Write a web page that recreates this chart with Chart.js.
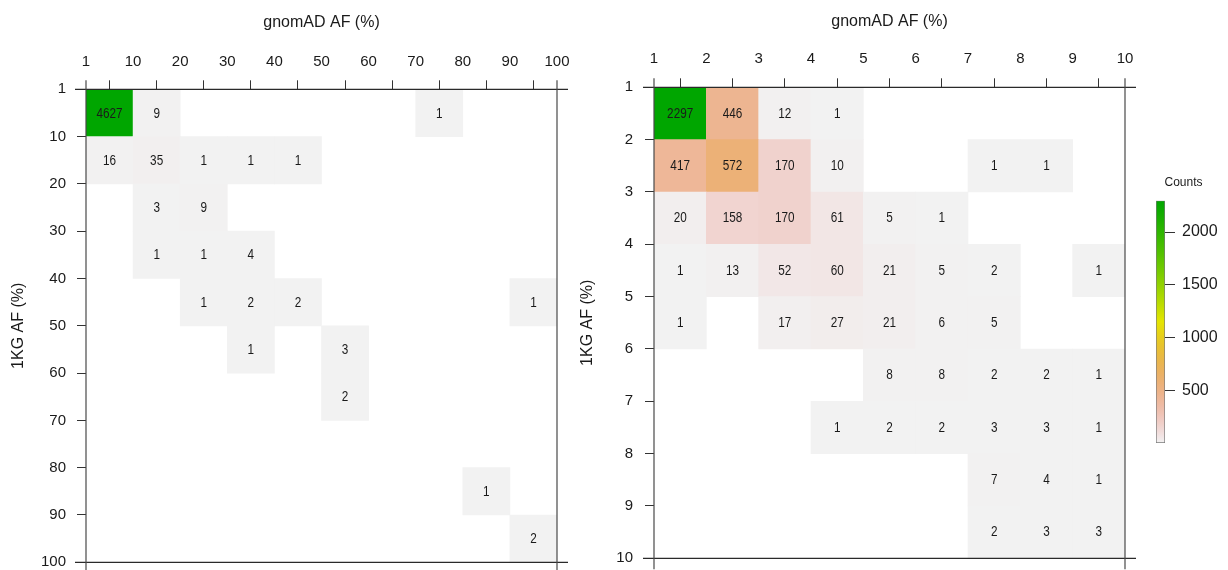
<!DOCTYPE html>
<html>
<head>
<meta charset="utf-8">
<script src="https://cdn.jsdelivr.net/npm/chart.js@4/dist/chart.umd.min.js"></script>
<style>
  html, body { margin: 0; padding: 0; background: #ffffff; }
  #wrap { position: relative; width: 1228px; height: 570px; overflow: hidden; background: #ffffff; }
  #wrap canvas { position: absolute; left: 0; top: 0; }
</style>
</head>
<body>
<div id="wrap">
  <canvas id="coarse" width="1228" height="570"></canvas>
  <canvas id="fine" width="1228" height="570"></canvas>
  <canvas id="scalebar" width="1228" height="570"></canvas>
</div>
<script>
// Bin edges (AF %) shared by both axes of each panel
const coarseEdges = ['1', '10', '20', '30', '40', '50', '60', '70', '80', '90', '100'];
const fineEdges = ['1', '2', '3', '4', '5', '6', '7', '8', '9', '10'];

// Variant counts: one row per 1KG AF bin (top to bottom), one column per gnomAD AF bin
const coarseCounts = [
  [4627, 9, 0, 0, 0, 0, 0, 1, 0, 0],
  [16, 35, 1, 1, 1, 0, 0, 0, 0, 0],
  [0, 3, 9, 0, 0, 0, 0, 0, 0, 0],
  [0, 1, 1, 4, 0, 0, 0, 0, 0, 0],
  [0, 0, 1, 2, 2, 0, 0, 0, 0, 1],
  [0, 0, 0, 1, 0, 3, 0, 0, 0, 0],
  [0, 0, 0, 0, 0, 2, 0, 0, 0, 0],
  [0, 0, 0, 0, 0, 0, 0, 0, 0, 0],
  [0, 0, 0, 0, 0, 0, 0, 0, 1, 0],
  [0, 0, 0, 0, 0, 0, 0, 0, 0, 2]
];
const fineCounts = [
  [2297, 446, 12, 1, 0, 0, 0, 0, 0],
  [417, 572, 170, 10, 0, 0, 1, 1, 0],
  [20, 158, 170, 61, 5, 1, 0, 0, 0],
  [1, 13, 52, 60, 21, 5, 2, 0, 1],
  [1, 0, 17, 27, 21, 6, 5, 0, 0],
  [0, 0, 0, 0, 8, 8, 2, 2, 1],
  [0, 0, 0, 1, 2, 2, 3, 3, 1],
  [0, 0, 0, 0, 0, 0, 7, 4, 1],
  [0, 0, 0, 0, 0, 0, 2, 3, 3]
];

// Colour key ticks
const scaleTicks = [500, 1000, 1500, 2000];

const AXIS_FONT = '"Liberation Sans", Arial, Helvetica, sans-serif';
const INK = '#1a1a1a';

// Reversed terrain palette: light grey -> salmon -> yellow -> green
function hsvToRgb(h, s, v) {
  const c = v * s, hp = h / 60, x = c * (1 - Math.abs((hp % 2) - 1));
  let r = 0, g = 0, b = 0;
  if (hp < 1) { r = c; g = x; }
  else if (hp < 2) { r = x; g = c; }
  else { g = c; b = x; }
  const m = v - c;
  const to = (u) => Math.round((u + m) * 255);
  return 'rgb(' + to(r) + ',' + to(g) + ',' + to(b) + ')';
}
function ramp(t) {
  t = Math.max(0, Math.min(1, t));
  if (t <= 0.5) {
    const u = t / 0.5;
    return hsvToRgb(60 * u, u, 0.95 - 0.05 * u);
  }
  const u = (t - 0.5) / 0.5;
  return hsvToRgb(60 + 60 * u, 1, 0.9 - 0.25 * u);
}

// Prints each cell's count (narrow lettering) in the middle of its bar element
const cellLabels = {
  id: 'cellLabels',
  afterDatasetsDraw(chart) {
    const ctx = chart.ctx;
    const ds = chart.data.datasets[0];
    const meta = chart.getDatasetMeta(0);
    ctx.save();
    ctx.font = '14px ' + AXIS_FONT;
    ctx.fillStyle = INK;
    ctx.textAlign = 'center';
    ctx.textBaseline = 'middle';
    meta.data.forEach((el, i) => {
      const p = el.getProps(['x', 'y', 'base'], true);
      ctx.save();
      ctx.translate(p.x, (p.y + p.base) / 2 + 0.5);
      ctx.scale(0.84, 1);
      ctx.fillText(String(ds.data[i].v), 0, 0);
      ctx.restore();
    });
    ctx.restore();
  }
};

// Frame lines along the outer bin edges, running a little past the corners
const frameLines = {
  id: 'frameLines',
  afterDraw(chart) {
    const { left, right, top, bottom } = chart.chartArea;
    const ext = 11;
    const ctx = chart.ctx;
    ctx.save();
    ctx.lineWidth = 1.2;
    ctx.strokeStyle = '#2a2a2a';
    ctx.beginPath();
    ctx.moveTo(left - ext, top); ctx.lineTo(right + ext, top);
    ctx.moveTo(left - ext, bottom); ctx.lineTo(right + ext, bottom);
    ctx.stroke();
    ctx.strokeStyle = '#4a4a4a';
    ctx.beginPath();
    ctx.moveTo(left, top - 9); ctx.lineTo(left, bottom + ext);
    ctx.moveTo(right, top - 9); ctx.lineTo(right, bottom + ext);
    ctx.stroke();
    ctx.restore();
  }
};

function noLabelPadding(s) {
  s.paddingTop = 0; s.paddingBottom = 0; s.paddingLeft = 0; s.paddingRight = 0;
}

function heatmap(id, edges, counts, lay) {
  const nBins = edges.length - 1;
  const values = counts.flat().filter(v => v > 0);
  const lo = Math.min(...values), hi = Math.max(...values);
  const cells = [];
  counts.forEach((row, r) => row.forEach((v, c) => {
    if (v > 0) cells.push({ x: c + 0.5, y: [r, r + 1], v: v });
  }));
  return new Chart(document.getElementById(id), {
    type: 'bar',
    data: {
      datasets: [{
        data: cells,
        backgroundColor: (ctx) => ctx.raw ? ramp((ctx.raw.v - lo) / (hi - lo)) : 'rgba(0,0,0,0)',
        borderWidth: 0,
        barPercentage: 1,
        categoryPercentage: 1
      }]
    },
    options: {
      responsive: false,
      animation: false,
      devicePixelRatio: 1,
      events: [],
      layout: { padding: lay.padding },
      plugins: { legend: { display: false }, tooltip: { enabled: false } },
      scales: {
        x: {
          type: 'linear', position: 'top', min: 0, max: nBins, offset: false,
          afterFit: (s) => { s.height = lay.xHeight; noLabelPadding(s); },
          afterBuildTicks: (s) => { s.ticks = edges.map((_, i) => ({ value: i })); },
          ticks: {
            callback: (v) => edges[v], autoSkip: false, maxRotation: 0,
            padding: lay.xTickPad, color: INK, font: { family: AXIS_FONT, size: 15 }
          },
          grid: { drawOnChartArea: false, drawTicks: true, tickLength: 9, color: '#333333', lineWidth: 1 },
          border: { display: false },
          title: {
            display: true, text: 'gnomAD AF (%)', color: INK,
            font: { family: AXIS_FONT, size: 16 }, padding: { top: lay.xTitlePad, bottom: 0 }
          }
        },
        y: {
          type: 'linear', position: 'left', min: 0, max: nBins, reverse: true,
          afterFit: (s) => { s.width = lay.yWidth; noLabelPadding(s); },
          afterBuildTicks: (s) => { s.ticks = edges.map((_, i) => ({ value: i })); },
          ticks: {
            callback: (v) => edges[v], autoSkip: false,
            padding: lay.yTickPad, color: INK, font: { family: AXIS_FONT, size: 15 }
          },
          grid: { drawOnChartArea: false, drawTicks: true, tickLength: 9, color: '#333333', lineWidth: 1 },
          border: { display: false },
          title: {
            display: true, text: '1KG AF (%)', color: INK,
            font: { family: AXIS_FONT, size: 16 }, padding: { top: lay.yTitlePad, bottom: 0 }
          }
        }
      }
    },
    plugins: [cellLabels, frameLines]
  });
}

heatmap('coarse', coarseEdges, coarseCounts, {
  padding: { left: 0, right: 671, top: 0, bottom: 7.7 },
  xHeight: 89.3, yWidth: 86, xTickPad: 9, yTickPad: 11, xTitlePad: 13.4, yTitlePad: 9.4
});
heatmap('fine', fineEdges, fineCounts, {
  padding: { left: 568, right: 103, top: 0, bottom: 11.7 },
  xHeight: 87.3, yWidth: 86, xTickPad: 10, yTickPad: 12, xTitlePad: 12.4, yTitlePad: 10.4
});

// Colour key for the fine-bin panel
const fineValues = fineCounts.flat().filter(v => v > 0);
const keyMin = Math.min(...fineValues);
const keyMax = Math.max(...fineValues);

const keyTitle = {
  id: 'keyTitle',
  afterDraw(chart) {
    const { left, right, top } = chart.chartArea;
    const ctx = chart.ctx;
    ctx.save();
    ctx.font = '12px ' + AXIS_FONT;
    ctx.fillStyle = INK;
    ctx.textAlign = 'center';
    ctx.textBaseline = 'middle';
    ctx.fillText('Counts', (left + right) / 2 + 23, top - 18);
    ctx.restore();
  }
};

new Chart(document.getElementById('scalebar'), {
  type: 'bar',
  data: {
    labels: ['Counts'],
    datasets: [{
      data: [[keyMin, keyMax]],
      backgroundColor: (ctx) => {
        const chart = ctx.chart;
        if (!chart.chartArea) return '#f2f2f2';
        const ys = chart.scales.y;
        const g = chart.ctx.createLinearGradient(0, ys.getPixelForValue(keyMin), 0, ys.getPixelForValue(keyMax));
        for (let i = 0; i <= 40; i++) g.addColorStop(i / 40, ramp(i / 40));
        return g;
      },
      borderColor: '#7a7a7a',
      borderWidth: 1,
      borderSkipped: false,
      barPercentage: 1,
      categoryPercentage: 1
    }]
  },
  options: {
    responsive: false,
    animation: false,
    devicePixelRatio: 1,
    events: [],
    layout: { padding: { left: 1156, right: 3, top: 200.7, bottom: 127 } },
    plugins: { legend: { display: false }, tooltip: { enabled: false } },
    scales: {
      x: { display: false },
      y: {
        position: 'right', min: keyMin, max: keyMax,
        afterFit: (s) => { s.width = 60; },
        afterBuildTicks: (s) => { s.ticks = scaleTicks.map(v => ({ value: v })); },
        ticks: { callback: (v) => String(v), padding: 7, color: INK, font: { family: AXIS_FONT, size: 16 } },
        grid: { drawOnChartArea: false, drawTicks: true, tickLength: 10, color: '#333333', lineWidth: 1 },
        border: { display: false }
      }
    }
  },
  plugins: [keyTitle]
});
</script>
</body>
</html>
